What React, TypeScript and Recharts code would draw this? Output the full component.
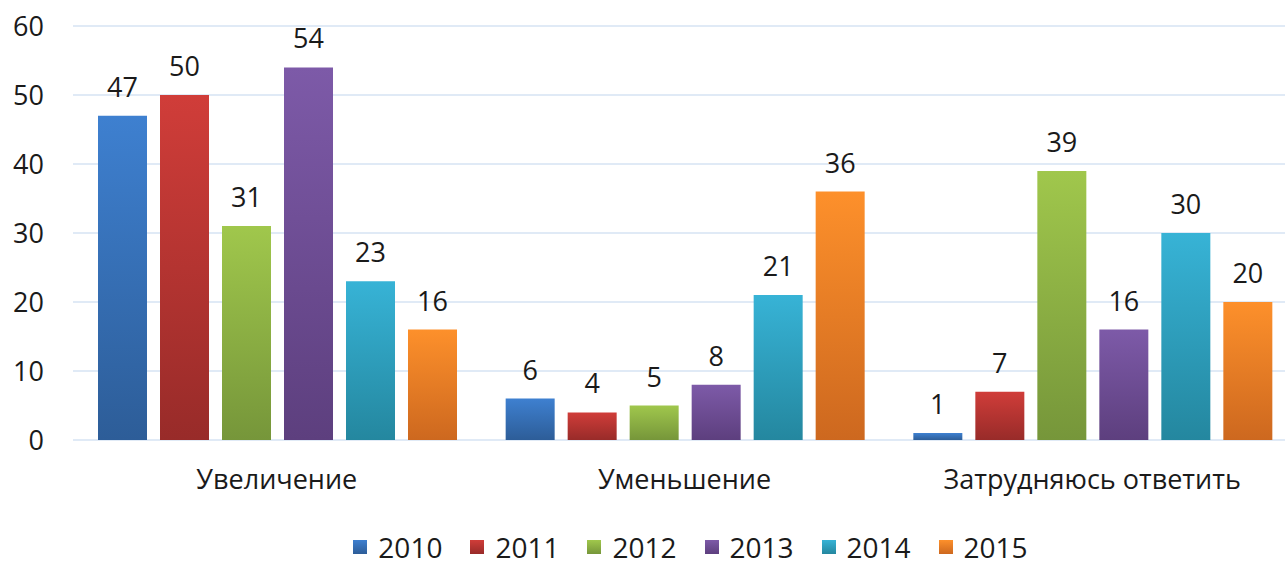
import React from "react"
import { BarChart, Bar, XAxis, YAxis, CartesianGrid, Legend, LabelList } from "recharts"

const categories = ["Увеличение", "Уменьшение", "Затрудняюсь ответить"]
const years = ["2010", "2011", "2012", "2013", "2014", "2015"]
const values2010 = [47, 6, 1]
const values2011 = [50, 4, 7]
const values2012 = [31, 5, 39]
const values2013 = [54, 8, 16]
const values2014 = [23, 21, 30]
const values2015 = [16, 36, 20]
const yTicks = [0, 10, 20, 30, 40, 50, 60]

const seriesValues = [values2010, values2011, values2012, values2013, values2014, values2015]

// top / bottom colours of each bar gradient
const colors = [
	["#3e80d0", "#2d5d98"],
	["#d03d39", "#982b29"],
	["#a0c74c", "#76963a"],
	["#7d5aa8", "#5d3f7e"],
	["#37b3d6", "#24879f"],
	["#fd902b", "#cd681f"],
]

const data = categories.map((cat, i) => {
	const row: Record<string, string | number> = { name: cat }
	years.forEach((y, j) => {
		row[y] = seriesValues[j][i]
	})
	return row
})

const font = "'Open Sans', sans-serif"
const textColor = "#1a1a1a"

const LegendContent = () => (
	<div
		style={{
			display: "flex",
			justifyContent: "center",
			fontFamily: font,
			fontSize: 28,
			lineHeight: "30px",
			color: textColor,
			paddingLeft: 80,
			paddingTop: 11,
		}}
	>
		{years.map((y, i) => (
			<div key={y} style={{ display: "flex", alignItems: "center", marginRight: i < years.length - 1 ? 28 : 0 }}>
				<div
					style={{
						width: 14,
						height: 14,
						background: `linear-gradient(${colors[i][0]}, ${colors[i][1]})`,
						marginRight: 11,
					}}
				/>
				<span>{y}</span>
			</div>
		))}
	</div>
)

const App: React.FC = () => {
	return (
		<div style={{ position: "absolute", left: 0, top: 0, width: 1285, height: 567, overflow: "hidden", background: "#fff" }}>
			<BarChart
				width={1296}
				height={567}
				data={data}
				margin={{ top: 26, right: 0, left: 0, bottom: 0 }}
				barCategoryGap={25}
				barGap={13}
			>
				<defs>
					{colors.map((c, i) => (
						<linearGradient key={i} id={`grad${i}`} x1="0" y1="0" x2="0" y2="1">
							<stop offset="0%" stopColor={c[0]} />
							<stop offset="100%" stopColor={c[1]} />
						</linearGradient>
					))}
				</defs>
				<CartesianGrid vertical={false} stroke="#d6e3f3" strokeWidth={1.5} />
				<XAxis
					dataKey="name"
					axisLine={false}
					tickLine={false}
					tickSize={0}
					tickMargin={30}
					height={81}
					tick={{ fontFamily: font, fontSize: 27, fill: textColor }}
				/>
				<YAxis
					domain={[0, 60]}
					ticks={yTicks}
					axisLine={false}
					tickLine={false}
					tickSize={0}
					tickMargin={29}
					width={73}
					tick={{ fontFamily: font, fontSize: 27, fill: textColor }}
				/>
				<Legend verticalAlign="bottom" height={46} content={<LegendContent />} wrapperStyle={{ left: 8, width: 1285 }} />
				{years.map((y, i) => (
					<Bar key={y} dataKey={y} fill={`url(#grad${i})`} isAnimationActive={false}>
						<LabelList dataKey={y} position="top" offset={19} style={{ fontFamily: font, fontSize: 27, fill: textColor }} />
					</Bar>
				))}
			</BarChart>
		</div>
	)
}

export default App
